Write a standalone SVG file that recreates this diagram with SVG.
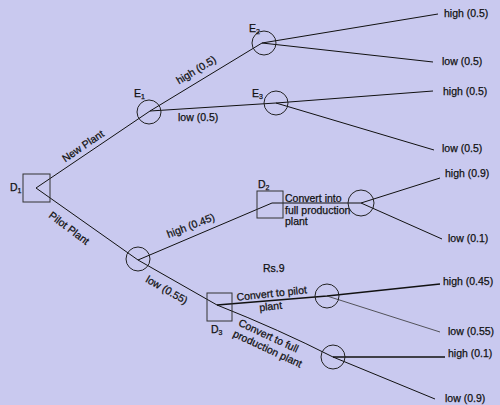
<svg xmlns="http://www.w3.org/2000/svg" width="500" height="405" viewBox="0 0 500 405">
<style>
text{font-family:"Liberation Sans",Arial,sans-serif;font-size:10.5px;fill:#111;stroke:#111;stroke-width:0.25}
.sub{font-size:7px}
.ln{stroke:#111;stroke-width:1;fill:none}
.thk{stroke:#111;stroke-width:1.4;fill:none}
.thn{stroke:#333;stroke-width:0.8;fill:none}
.chance{stroke:#222;stroke-width:1;fill:none}
.dec{stroke:#333;stroke-width:1;fill:none}
</style>
<rect width="500" height="405" fill="#c9c9ef"/>
<g id="connectors">
<line class="ln" x1="36" y1="188" x2="150" y2="111"/>
<line class="ln" x1="36" y1="188" x2="138" y2="260"/>
<line class="ln" x1="150" y1="111" x2="262" y2="43"/>
<line class="ln" x1="150" y1="111" x2="276" y2="103"/>
<line class="ln" x1="262" y1="43" x2="438" y2="14"/>
<line class="ln" x1="262" y1="43" x2="433" y2="62"/>
<line class="ln" x1="276" y1="103" x2="433" y2="91"/>
<line class="ln" x1="276" y1="103" x2="434" y2="150"/>
<line class="ln" x1="138" y1="260" x2="272" y2="203"/>
<line class="ln" x1="138" y1="260" x2="217" y2="305"/>
<line class="ln" x1="272" y1="203" x2="361" y2="203"/>
<line class="ln" x1="361" y1="203" x2="440" y2="178"/>
<line class="ln" x1="361" y1="203" x2="442" y2="239"/>
<polyline class="thk" points="217,305 327,296 440,284"/>
<line class="thn" x1="327" y1="296" x2="440" y2="332"/>
<path class="ln" d="M217,305 Q280,330 333,357"/>
<line class="thk" x1="333" y1="357" x2="445" y2="357"/>
<line class="ln" x1="333" y1="357" x2="435" y2="399"/>
</g>
<g id="D1">
<rect class="dec" x="23" y="174" width="27" height="28"/>
<text x="10" y="191">D<tspan class="sub" dy="2">1</tspan></text>
</g>
<g id="E1">
<circle class="chance" cx="149" cy="112" r="12"/>
<text x="134" y="97">E<tspan class="sub" dy="2">1</tspan></text>
</g>
<g id="E2">
<circle class="chance" cx="264" cy="43" r="12"/>
<text x="249" y="32">E<tspan class="sub" dy="2">2</tspan></text>
</g>
<g id="E3">
<circle class="chance" cx="276" cy="103" r="12"/>
<text x="252" y="97">E<tspan class="sub" dy="2">3</tspan></text>
</g>
<g id="C1">
<circle class="chance" cx="138" cy="259" r="12"/>
</g>
<g id="D2">
<rect class="dec" x="257" y="191" width="26" height="27"/>
<text x="258" y="188">D<tspan class="sub" dy="2">2</tspan></text>
</g>
<g id="C2">
<circle class="chance" cx="361" cy="203" r="13"/>
</g>
<g id="D3">
<rect class="dec" x="207" y="293" width="25" height="28"/>
<text x="211" y="333">D<tspan class="sub" dy="2">3</tspan></text>
</g>
<g id="C3">
<circle class="chance" cx="327" cy="296" r="12"/>
</g>
<g id="C4">
<circle class="chance" cx="333" cy="357" r="12"/>
</g>
<g id="labels">
<text transform="translate(85,149) rotate(-34)" text-anchor="middle">New Plant</text>
<text transform="translate(67,231) rotate(37)" text-anchor="middle">Pilot Plant</text>
<text transform="translate(198,73) rotate(-31)" text-anchor="middle">high (0.5)</text>
<text x="178" y="121">low (0.5)</text>
<text transform="translate(192,229) rotate(-21)" text-anchor="middle">high (0.45)</text>
<text transform="translate(165,293) rotate(30)" text-anchor="middle">low (0.55)</text>
<text x="285" y="202">Convert into</text>
<text x="285" y="214">full production</text>
<text x="285" y="225">plant</text>
<text x="263" y="272">Rs.9</text>
<text transform="translate(272,297) rotate(-6)" text-anchor="middle">Convert to pilot</text>
<text transform="translate(271,310) rotate(-6)" text-anchor="middle">plant</text>
<text transform="translate(267,339) rotate(25)" text-anchor="middle">Convert to full</text>
<text transform="translate(266,352) rotate(25)" text-anchor="middle">production plant</text>
<text x="444" y="17">high (0.5)</text>
<text x="442" y="65">low (0.5)</text>
<text x="443" y="95">high (0.5)</text>
<text x="442" y="152">low (0.5)</text>
<text x="445" y="177">high (0.9)</text>
<text x="448" y="242">low (0.1)</text>
<text x="443" y="285">high (0.45)</text>
<text x="448" y="335">low (0.55)</text>
<text x="448" y="357">high (0.1)</text>
<text x="445" y="402">low (0.9)</text>
</g>
</svg>
